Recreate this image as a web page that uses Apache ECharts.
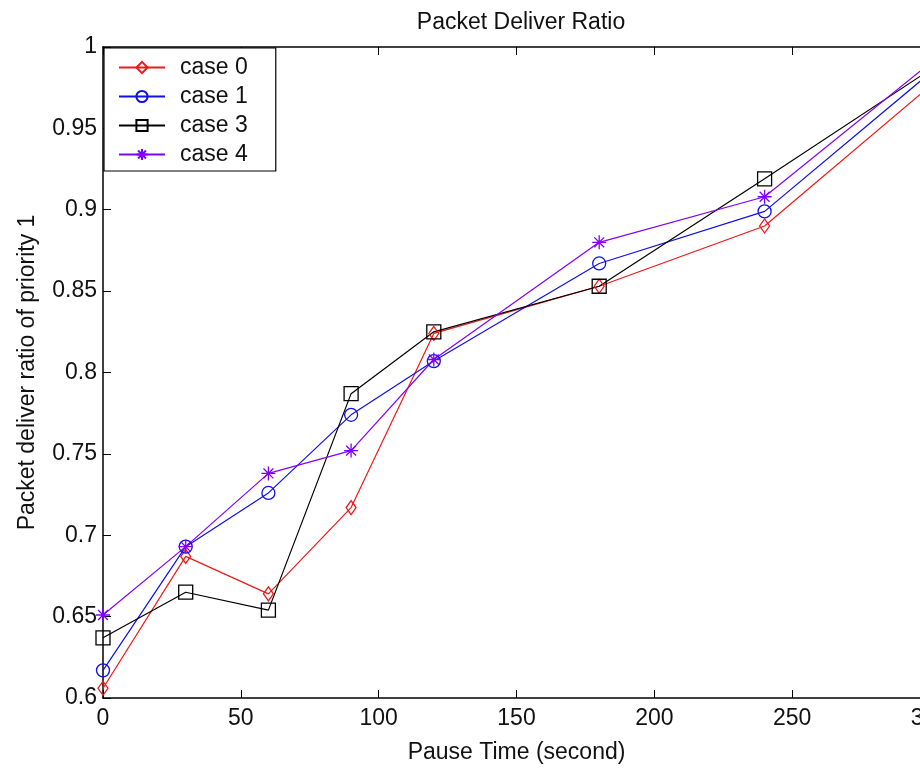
<!DOCTYPE html>
<html>
<head>
<meta charset="utf-8">
<script src="https://cdn.jsdelivr.net/npm/echarts@6/dist/echarts.min.js"></script>
<style>html,body{margin:0;padding:0;background:#fff}#c{width:920px;height:769px}</style>
</head>
<body>
<div id="c"></div>
<script>
const pauseTime = [0, 30, 60, 90, 120, 180, 240, 300];
const case0 = [0.606, 0.687, 0.664, 0.717, 0.824, 0.853, 0.890, 0.976];
const case1 = [0.617, 0.693, 0.726, 0.774, 0.807, 0.867, 0.899, 0.984];
const case3 = [0.637, 0.665, 0.654, 0.787, 0.825, 0.853, 0.919, 0.986];
const case4 = [0.651, 0.693, 0.738, 0.752, 0.808, 0.880, 0.908, 0.990];
const seriesNames = ['case 0', 'case 1', 'case 3', 'case 4'];
const xTicks = [0, 50, 100, 150, 200, 250, 300];

const FONT = 'Liberation Sans, Arial, sans-serif';
const starPath = 'path://M0,-10L0,10M-10,0L10,0M-7.07,-7.07L7.07,7.07M-7.07,7.07L7.07,-7.07';

function mk(name, vals, color, symbol, size) {
  return {
    name: name,
    type: 'line',
    data: pauseTime.map((x, i) => [x, vals[i]]),
    symbol: symbol,
    symbolSize: size,
    showAllSymbol: true,
    lineStyle: { color: color, width: 1.2 },
    itemStyle: { color: 'rgba(255,255,255,0)', borderColor: color, borderWidth: 1.3 },
    emphasis: { disabled: true },
    animation: false,
    clip: false
  };
}

const chart = echarts.init(document.getElementById('c'), null, { renderer: 'canvas' });
chart.setOption({
  backgroundColor: '#fff',
  animation: false,
  title: {
    text: 'Packet Deliver Ratio',
    left: 516, top: 6, textAlign: 'center',
    textStyle: { fontFamily: FONT, fontSize: 23, fontWeight: 'normal', color: '#111' }
  },
  legend: {
    data: seriesNames,
    orient: 'vertical',
    left: 104, top: 48,
    backgroundColor: '#fff',
    borderColor: '#000', borderWidth: 1.2, borderRadius: 0,
    padding: [8, 28, 5, 14],
    itemWidth: 46, itemHeight: 14, itemGap: 6,
    textStyle: { fontFamily: FONT, fontSize: 23, color: '#111', padding: [0, 0, 0, 10] }
  },
  grid: { left: 103, right: -10, top: 47, bottom: 71, outerBoundsMode: 'none', containLabel: false },
  xAxis: [{
    type: 'value', min: 0, max: 300, interval: 50,
    name: 'Pause Time (second)', nameLocation: 'middle', nameGap: 43,
    nameTextStyle: { fontFamily: FONT, fontSize: 23, color: '#111' },
    axisLine: { lineStyle: { color: '#000', width: 1.5 } },
    axisTick: { inside: true, length: 8, lineStyle: { color: '#000' } },
    axisLabel: { fontFamily: FONT, fontSize: 23, color: '#111', margin: 9,
      customValues: xTicks, formatter: v => String(v) },
    splitLine: { show: false }
  }, {
    type: 'value', min: 0, max: 300, interval: 50, position: 'top',
    axisLine: { lineStyle: { color: '#000', width: 1.5 } },
    axisTick: { inside: true, length: 8, lineStyle: { color: '#000' } },
    axisLabel: { show: false }, splitLine: { show: false }
  }],
  yAxis: [{
    type: 'value', min: 0.6, max: 1, interval: 0.05,
    name: 'Packet deliver ratio of priority 1', nameLocation: 'middle', nameGap: 64,
    nameTextStyle: { fontFamily: FONT, fontSize: 23, color: '#111' },
    axisLine: { lineStyle: { color: '#000', width: 1.5 } },
    axisTick: { inside: true, length: 8, lineStyle: { color: '#000' } },
    axisLabel: { fontFamily: FONT, fontSize: 23, color: '#111', margin: 6 },
    splitLine: { show: false }
  }],
  series: [
    mk('case 0', case0, '#f01818', 'diamond', [10, 14]),
    mk('case 1', case1, '#1010e8', 'circle', 13),
    mk('case 3', case3, '#000000', 'rect', 14),
    mk('case 4', case4, '#8000ff', starPath, 14)
  ]
});
</script>
</body>
</html>
